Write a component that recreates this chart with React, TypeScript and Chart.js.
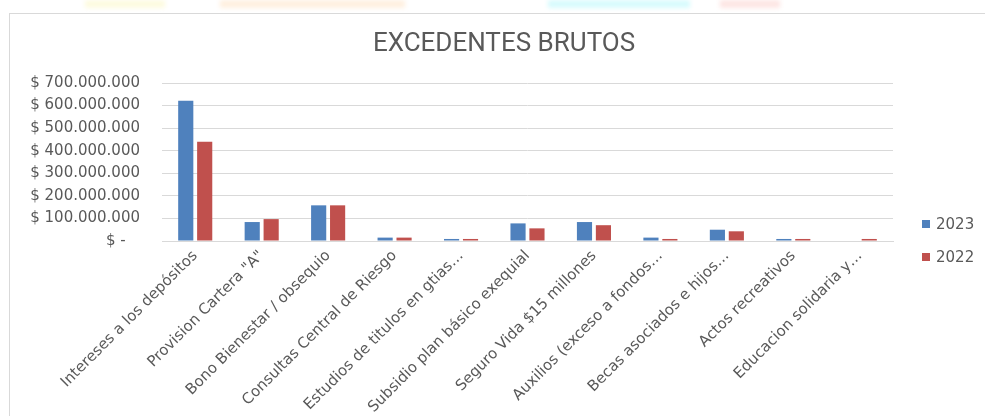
import React, { useEffect, useRef } from "react";
import { Chart, registerables } from "chart.js";

Chart.register(...registerables);

const categories = [
  "Intereses a los depósitos",
  'Provision Cartera "A"',
  "Bono Bienestar / obsequio",
  "Consultas Central de Riesgo",
  "Estudios de titulos en gtias…",
  "Subsidio plan básico exequial",
  "Seguro Vida $15 millones",
  "Auxilios (exceso a fondos…",
  "Becas asociados e hijos…",
  "Actos recreativos",
  "Educacion solidaria y…",
];

const values2023 = [621000000, 84000000, 158000000, 15000000, 9000000, 78000000, 84000000, 15000000, 50000000, 9000000, 0];
const values2022 = [440000000, 97000000, 158000000, 15000000, 9000000, 56000000, 70000000, 9000000, 43000000, 9000000, 9000000];

const seriesNames = ["2023", "2022"];
const seriesColors = ["#4f81bd", "#c0504d"];
const titleText = "EXCEDENTES BRUTOS";

const yMax = 700000000;
const yStep = 100000000;

const fmt = (v: number) => {
  if (v === 0) return "$ -   ";
  return "$ " + Math.round(v).toString().replace(/\B(?=(\d{3})+(?!\d))/g, ".");
};

const legendPlugin = {
  id: "customLegend",
  afterDraw(chart: any) {
    const ctx = chart.ctx;
    ctx.save();
    const ys = [210, 243];
    chart.data.datasets.forEach((ds: any, i: number) => {
      ctx.fillStyle = ds.backgroundColor;
      ctx.fillRect(912, ys[i] - 4, 8, 8);
      ctx.fillStyle = "#595959";
      ctx.font = "15px 'DejaVu Sans'";
      ctx.textBaseline = "middle";
      ctx.textAlign = "left";
      ctx.fillText(ds.label, 926, ys[i] + 1);
    });
    ctx.fillStyle = "#595959";
    ctx.font = "26px 'Liberation Sans Narrow', 'Roboto'";
    ctx.textAlign = "center";
    ctx.textBaseline = "middle";
    ctx.fillText(titleText, 494, 30);
    ctx.restore();
  },
};

export default function App() {
  const ref = useRef<HTMLCanvasElement>(null);
  useEffect(() => {
    if (!ref.current) return;
    const chart = new Chart(ref.current, {
      type: "bar",
      data: {
        labels: categories,
        datasets: [
          { label: seriesNames[0], data: values2023, backgroundColor: seriesColors[0] },
          { label: seriesNames[1], data: values2022, backgroundColor: seriesColors[1] },
        ],
      },
      plugins: [legendPlugin],
      options: {
        animation: false,
        responsive: false,
        maintainAspectRatio: false,
        layout: { padding: { left: 0, right: 92, top: 69, bottom: 0 } },
        datasets: { bar: { categoryPercentage: 0.57, barPercentage: 0.8 } },
        plugins: {
          legend: { display: false },
          tooltip: { enabled: false },
          title: { display: false },
        },
        scales: {
          x: {
            grid: { display: false, drawTicks: false },
            border: { color: "#d9d9d9" },
            ticks: {
              autoSkip: false,
              maxRotation: 45,
              minRotation: 45,
              color: "#595959",
              padding: 6,
              font: { family: "'DejaVu Sans'", size: 15 },
            },
            afterFit: (s: any) => {
              s.height = 175;
            },
          },
          y: {
            min: 0,
            max: yMax,
            grid: { color: "#d9d9d9", drawTicks: false },
            border: { display: false },
            ticks: {
              stepSize: yStep,
              color: "#595959",
              padding: 22,
              font: { family: "'DejaVu Sans'", size: 15 },
              callback: (v: any) => fmt(Number(v)),
            },
            afterFit: (s: any) => {
              s.width = 152;
            },
          },
        },
      },
    });
    return () => chart.destroy();
  }, []);

  return (
    <div style={{ position: "fixed", left: 0, top: 0, width: 985, height: 416, background: "#fff", overflow: "hidden" }}>
      <div style={{ position: "absolute", left: 85, top: 0, width: 80, height: 8, background: "#fdfbe0", filter: "blur(2px)" }} />
      <div style={{ position: "absolute", left: 220, top: 0, width: 185, height: 8, background: "#fff0e0", filter: "blur(2px)" }} />
      <div style={{ position: "absolute", left: 548, top: 0, width: 142, height: 8, background: "#d8fbfd", filter: "blur(2px)" }} />
      <div style={{ position: "absolute", left: 720, top: 0, width: 60, height: 8, background: "#fde6e4", filter: "blur(2px)" }} />
      <div style={{ position: "absolute", left: 9, top: 13, width: 990, height: 420, border: "1px solid #d9d9d9", boxSizing: "border-box" }} />
      <canvas ref={ref} width={975} height={402} style={{ position: "absolute", left: 10, top: 14, width: 975, height: 402 }} />
    </div>
  );
}
